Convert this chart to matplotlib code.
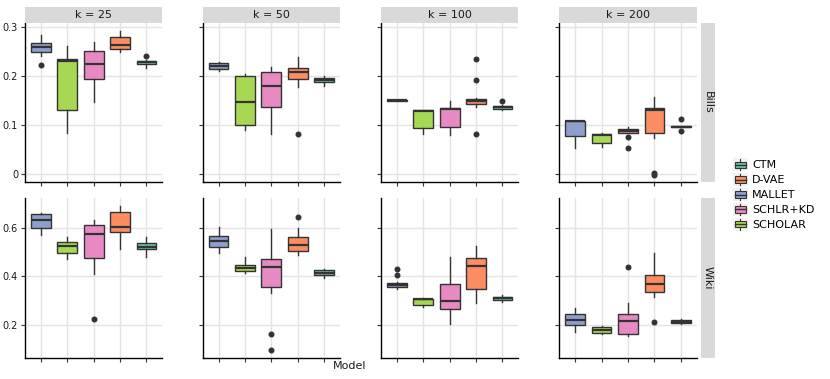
import matplotlib
matplotlib.use("Agg")
import matplotlib.pyplot as plt
from matplotlib.patches import Rectangle
from matplotlib.lines import Line2D
from matplotlib.legend_handler import HandlerBase

# ---------------- data ----------------
models = ["MALLET", "SCHOLAR", "SCHLR+KD", "D-VAE", "CTM"]
legend_order = ["CTM", "D-VAE", "MALLET", "SCHLR+KD", "SCHOLAR"]
k_values = [25, 50, 100, 200]
datasets = ["Bills", "Wiki"]
colors = {"CTM": "#66C2A5", "D-VAE": "#FC8D62", "MALLET": "#8DA0CB",
          "SCHLR+KD": "#E78AC3", "SCHOLAR": "#A6D854"}

# box stats per k (rows) per model (cols): [whislo, q1, med, q3, whishi]
bills_stats = [
    [[0.240, 0.248, 0.259, 0.266, 0.284], [0.084, 0.129, 0.231, 0.235, 0.261],
     [0.147, 0.193, 0.224, 0.250, 0.269], [0.249, 0.255, 0.263, 0.280, 0.292],
     [0.216, 0.223, 0.227, 0.230, 0.232]],
    [[0.209, 0.213, 0.220, 0.226, 0.228], [0.089, 0.099, 0.147, 0.200, 0.203],
     [0.082, 0.137, 0.178, 0.207, 0.218], [0.176, 0.193, 0.208, 0.215, 0.239],
     [0.180, 0.188, 0.191, 0.195, 0.199]],
    [[0.149, 0.149, 0.150, 0.151, 0.151], [0.080, 0.094, 0.128, 0.129, 0.131],
     [0.078, 0.095, 0.133, 0.135, 0.148], [0.136, 0.142, 0.148, 0.152, 0.154],
     [0.129, 0.133, 0.136, 0.139, 0.141]],
    [[0.052, 0.077, 0.107, 0.108, 0.108], [0.055, 0.062, 0.078, 0.082, 0.084],
     [0.083, 0.084, 0.087, 0.091, 0.095], [0.072, 0.084, 0.130, 0.135, 0.156],
     [0.095, 0.095, 0.096, 0.097, 0.097]],
]
bills_fliers = [
    [[0.222], [], [], [], [0.240]],
    [[], [], [], [0.082], []],
    [[], [], [], [0.235, 0.191, 0.080], [0.148]],
    [[], [], [0.074, 0.052], [0.002, -0.002], [0.112, 0.088]],
]
wiki_stats = [
    [[0.570, 0.600, 0.632, 0.655, 0.661], [0.470, 0.494, 0.525, 0.542, 0.563],
     [0.409, 0.474, 0.575, 0.610, 0.630], [0.512, 0.584, 0.604, 0.663, 0.690],
     [0.480, 0.512, 0.520, 0.536, 0.563]],
    [[0.496, 0.522, 0.544, 0.566, 0.604], [0.412, 0.420, 0.432, 0.446, 0.478],
     [0.332, 0.354, 0.438, 0.472, 0.596], [0.487, 0.503, 0.529, 0.560, 0.600],
     [0.391, 0.406, 0.414, 0.424, 0.430]],
    [[0.347, 0.354, 0.364, 0.371, 0.375], [0.272, 0.280, 0.304, 0.307, 0.309],
     [0.202, 0.263, 0.297, 0.367, 0.480], [0.288, 0.348, 0.442, 0.475, 0.523],
     [0.292, 0.302, 0.309, 0.315, 0.322]],
    [[0.171, 0.200, 0.221, 0.243, 0.268], [0.162, 0.167, 0.179, 0.189, 0.195],
     [0.153, 0.163, 0.214, 0.245, 0.291], [0.315, 0.336, 0.369, 0.406, 0.497],
     [0.203, 0.206, 0.212, 0.218, 0.222]],
]
wiki_fliers = [
    [[], [], [0.222], [], []],
    [[], [], [0.160, 0.096], [0.644], []],
    [[0.428, 0.405], [], [], [], []],
    [[], [], [0.439], [0.212], []],
]
bills_ticks = [0, 0.1, 0.2, 0.3]
bills_ticklabels = ["0", "0.1", "0.2", "0.3"]
wiki_ticks = [0.2, 0.4, 0.6]
wiki_ticklabels = ["0.2", "0.4", "0.6"]

# ---------------- layout ----------------
W, H = 830, 379
fig = plt.figure(figsize=(W / 100, H / 100), dpi=100)

col_x = [(25, 162.3), (202.7, 340), (381, 518.3), (559.3, 696.7)]
row_y = [(23.3, 182.3), (198.3, 357.7)]
strip_h = 16
rstrip_x = (701, 715)
ylims = [(-0.0176, 0.307), (0.064, 0.721)]

EDGE = "#333333"
GRID = "#E3E3E3"
STRIP = "#D9D9D9"
TXT = "#1A1A1A"


def fx(x):
    return x / W


def fy(y):
    return 1 - y / H


all_stats = [bills_stats, wiki_stats]
all_fliers = [bills_fliers, wiki_fliers]
all_ticks = [(bills_ticks, bills_ticklabels), (wiki_ticks, wiki_ticklabels)]

for r, ds in enumerate(datasets):
    y0, y1 = row_y[r]
    for c, k in enumerate(k_values):
        x0, x1 = col_x[c]
        ax = fig.add_axes([fx(x0), fy(y1), (x1 - x0) / W, (y1 - y0) / H])
        stats = []
        for m, name in enumerate(models):
            lo, q1, med, q3, hi = all_stats[r][c][m]
            stats.append(dict(whislo=lo, q1=q1, med=med, q3=q3, whishi=hi,
                              fliers=all_fliers[r][c][m], label=name))
        positions = list(range(1, len(models) + 1))
        bp = ax.bxp(stats, positions=positions, widths=0.75, patch_artist=True,
                    showcaps=False, zorder=3,
                    boxprops=dict(edgecolor=EDGE, linewidth=1.0),
                    whiskerprops=dict(color=EDGE, linewidth=1.0),
                    medianprops=dict(color=EDGE, linewidth=1.6),
                    flierprops=dict(marker="o", markerfacecolor=EDGE,
                                    markeredgecolor=EDGE, markersize=3.3))
        for patch, name in zip(bp["boxes"], models):
            patch.set_facecolor(colors[name])
        ax.set_xlim(0.4, len(models) + 0.6)
        ax.set_ylim(*ylims[r])
        ax.set_xticks(positions)
        ax.set_xticklabels([])
        ticks, labels = all_ticks[r]
        ax.set_yticks(ticks)
        if c == 0:
            ax.set_yticklabels(labels)
        else:
            ax.set_yticklabels([])
        ax.grid(True, color=GRID, linewidth=1.0, zorder=0)
        ax.set_axisbelow(True)
        for s in ["top", "right"]:
            ax.spines[s].set_visible(False)
        for s in ["left", "bottom"]:
            ax.spines[s].set_color("#000000")
            ax.spines[s].set_linewidth(1.0)
        ax.tick_params(axis="both", length=3, width=0.8, color="#333333",
                       labelsize=7, labelcolor=TXT, pad=2)
        ax.set_facecolor("white")
        if r == 0:
            sax = fig.add_axes([fx(x0), fy(y0), (x1 - x0) / W, strip_h / H])
            sax.set_facecolor(STRIP)
            sax.set_xticks([]); sax.set_yticks([])
            for s in sax.spines.values():
                s.set_visible(False)
            sax.text(0.5, 0.5, f"k = {k}", ha="center", va="center",
                     fontsize=8, color=TXT, transform=sax.transAxes)
    rax = fig.add_axes([fx(rstrip_x[0]), fy(y1), (rstrip_x[1] - rstrip_x[0]) / W,
                        (y1 - y0) / H])
    rax.set_facecolor(STRIP)
    rax.set_xticks([]); rax.set_yticks([])
    for s in rax.spines.values():
        s.set_visible(False)
    rax.text(0.5, 0.5, ds, ha="center", va="center", rotation=-90,
             fontsize=8, color=TXT, transform=rax.transAxes)

fig.text(fx(350), fy(366), "Model", ha="center", va="center", fontsize=8, color=TXT)


# ---------------- legend ----------------
class BoxKeyHandler(HandlerBase):
    def create_artists(self, legend, orig_handle, xdescent, ydescent,
                       width, height, fontsize, trans):
        x0, y0 = -xdescent, -ydescent
        bg = Rectangle((x0, y0), width, height, facecolor="#F2F2F2",
                       edgecolor="none", transform=trans)
        cx = x0 + width / 2
        vline = Line2D([cx, cx], [y0 + 0.08 * height, y0 + 0.92 * height],
                       color=EDGE, linewidth=0.8, transform=trans)
        box = Rectangle((x0 + 0.1 * width, y0 + 0.25 * height), 0.8 * width,
                        0.5 * height, facecolor=orig_handle.get_facecolor(),
                        edgecolor=EDGE, linewidth=0.8, transform=trans)
        med = Line2D([x0 + 0.1 * width, x0 + 0.9 * width],
                     [y0 + 0.5 * height] * 2, color=EDGE, linewidth=1.0,
                     transform=trans)
        return [bg, vline, box, med]


handles = [Rectangle((0, 0), 1, 1, facecolor=colors[n]) for n in legend_order]
fig.legend(handles, legend_order, handler_map={Rectangle: BoxKeyHandler()},
           loc="center left", bbox_to_anchor=(fx(731), fy(194.5)),
           frameon=False, fontsize=8, handlelength=1.3, handleheight=1.35,
           labelspacing=0.22, handletextpad=0.4, borderpad=0.2,
           borderaxespad=0)

fig.savefig("out.png", dpi=100)
